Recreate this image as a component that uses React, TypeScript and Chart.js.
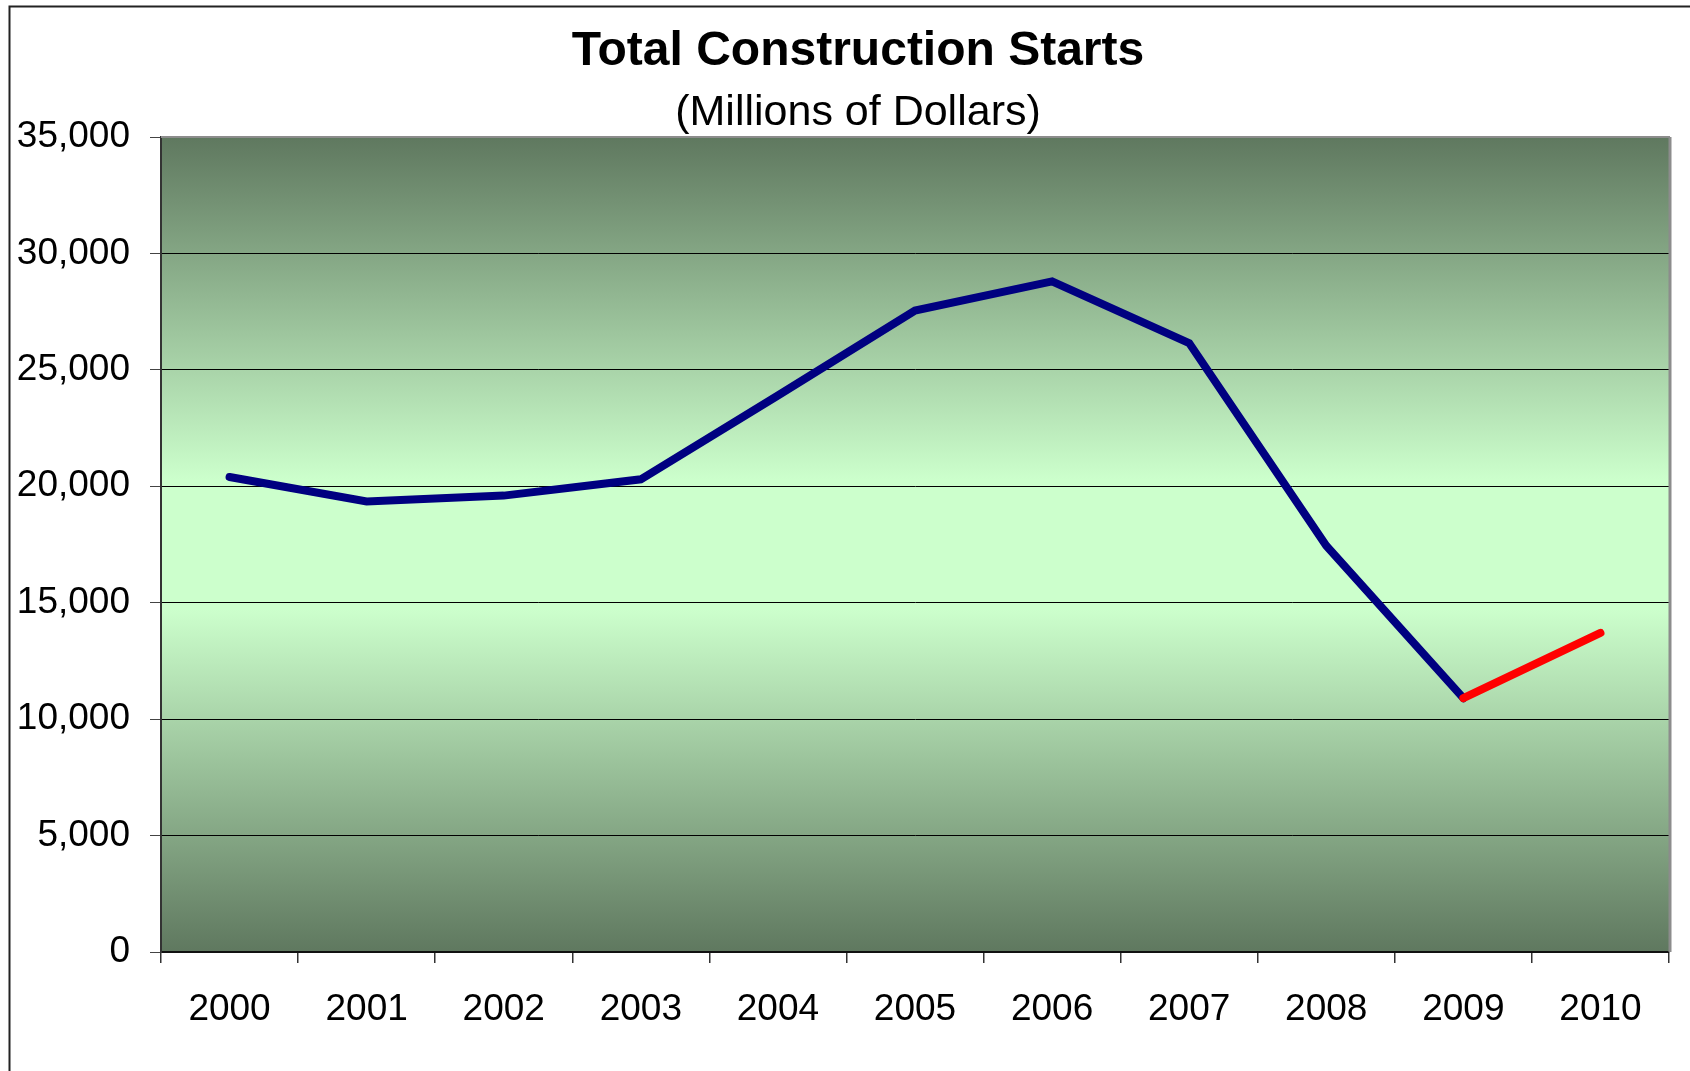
import React, { useEffect, useRef } from "react";
import { Chart, registerables } from "chart.js";

Chart.register(...registerables);

const years = ["2000", "2001", "2002", "2003", "2004", "2005", "2006", "2007", "2008", "2009", "2010"];
const actualStarts = [20400, 19350, 19600, 20300, 23900, 27550, 28800, 26150, 17450, 10900, null];
const forecastStarts = [null, null, null, null, null, null, null, null, null, 10900, 13700];
const yTicks = [0, 5000, 10000, 15000, 20000, 25000, 30000, 35000];
const titleText = "Total Construction Starts";
const subtitleText = "(Millions of Dollars)";

const FONT = "'Liberation Sans', Arial, Helvetica, sans-serif";

const backgroundPlugin = {
  id: "plotBackground",
  beforeDraw(chart: any) {
    const { ctx, chartArea } = chart;
    if (!chartArea) return;
    const g = ctx.createLinearGradient(0, chartArea.top, 0, chartArea.bottom);
    g.addColorStop(0, "#5f785f");
    g.addColorStop(0.42, "#ccffcc");
    g.addColorStop(0.58, "#ccffcc");
    g.addColorStop(1, "#5f785f");
    ctx.save();
    ctx.fillStyle = g;
    ctx.fillRect(chartArea.left, chartArea.top, chartArea.right - chartArea.left, chartArea.bottom - chartArea.top);
    ctx.restore();
  },
  afterDraw(chart: any) {
    const { ctx, chartArea } = chart;
    ctx.save();
    ctx.strokeStyle = "#8c8c8c";
    ctx.lineWidth = 2;
    ctx.beginPath();
    ctx.moveTo(chartArea.left, chartArea.top);
    ctx.lineTo(chartArea.right + 1, chartArea.top);
    ctx.stroke();
    ctx.lineWidth = 3;
    ctx.beginPath();
    ctx.moveTo(chartArea.right + 1, chartArea.top);
    ctx.lineTo(chartArea.right + 1, chartArea.bottom);
    ctx.stroke();
    ctx.strokeStyle = "#222222";
    ctx.lineWidth = 2;
    ctx.strokeRect(9.5, 6.5, 2000, 2000);

    // titles, centred as in the reference (slightly right of the canvas centre)
    ctx.fillStyle = "#000000";
    ctx.textAlign = "center";
    ctx.textBaseline = "middle";
    ctx.font = `bold 48px ${FONT}`;
    ctx.fillText(titleText, 858, 52);
    ctx.font = `normal 43px ${FONT}`;
    ctx.fillText(subtitleText, 858, 113);
    ctx.restore();
  },
};

export default function App() {
  const ref = useRef<HTMLCanvasElement | null>(null);

  useEffect(() => {
    if (!ref.current) return;
    const chart = new Chart(ref.current, {
      type: "line",
      data: {
        labels: years,
        datasets: [
          {
            label: "Forecast",
            data: forecastStarts,
            borderColor: "#ff0000",
            borderWidth: 8,
            borderCapStyle: "round",
            borderJoinStyle: "round",
            pointRadius: 0,
            fill: false,
            tension: 0,
            order: 0,
          },
          {
            label: "Actual",
            data: actualStarts,
            borderColor: "#000080",
            borderWidth: 8,
            borderCapStyle: "round",
            borderJoinStyle: "miter",
            pointRadius: 0,
            fill: false,
            tension: 0,
            order: 1,
          },
        ],
      },
      options: {
        responsive: false,
        animation: false,
        events: [],
        layout: { padding: { left: 0, right: 21, top: 137, bottom: 0 } },
        plugins: {
          legend: { display: false },
          tooltip: { enabled: false },
          title: { display: false },
          subtitle: { display: false },
        },
        scales: {
          x: {
            type: "category",
            offset: true,
            grid: {
              offset: true,
              drawOnChartArea: false,
              drawTicks: true,
              tickLength: 11,
              tickColor: "#333333",
              lineWidth: 1.5,
            },
            border: { display: true, color: "#111111", width: 2 },
            ticks: {
              color: "#000000",
              font: { family: FONT, size: 37 },
              padding: 25,
              maxRotation: 0,
              autoSkip: false,
            },
            afterFit(scale: any) {
              scale.height = 119;
            },
          },
          y: {
            min: 0,
            max: 35000,
            afterBuildTicks(scale: any) {
              scale.ticks = yTicks.map((v) => ({ value: v }));
            },
            grid: {
              drawOnChartArea: true,
              drawTicks: true,
              tickLength: 11,
              color: (ctx: any) => (ctx.tick && ctx.tick.value === 35000 ? "rgba(0,0,0,0)" : "#000000"),
              lineWidth: 1,
              tickColor: "#444444",
            },
            border: { display: true, color: "#333333", width: 2 },
            ticks: {
              color: "#000000",
              font: { family: FONT, size: 37 },
              padding: 20,
              callback: (v: any) => Number(v).toLocaleString("en-US"),
            },
            afterFit(scale: any) {
              scale.width = 161;
            },
          },
        },
      },
      plugins: [backgroundPlugin],
    });
    return () => chart.destroy();
  }, []);

  return (
    <div style={{ position: "absolute", left: 0, top: 0, width: 1690, height: 1071, background: "#ffffff" }}>
      <canvas ref={ref} width={1690} height={1071} style={{ display: "block", width: 1690, height: 1071 }} />
    </div>
  );
}
